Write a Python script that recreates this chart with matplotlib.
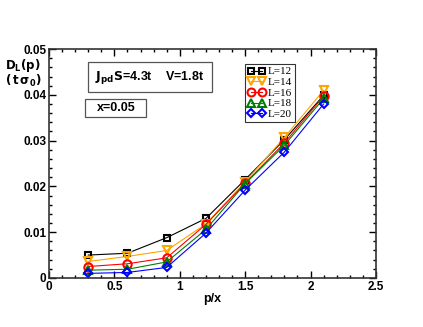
import matplotlib
matplotlib.use("Agg")
import matplotlib.pyplot as plt
from matplotlib.ticker import MultipleLocator
from matplotlib.patches import Rectangle

px = [0.3, 0.6, 0.9, 1.2, 1.5, 1.8, 2.1]
L12 = [0.0050, 0.0054, 0.0088, 0.0130, 0.0215, 0.0302, 0.0399]
L14 = [0.0036, 0.0047, 0.0060, 0.0118, 0.0210, 0.0307, 0.0410]
L16 = [0.0025, 0.0031, 0.0044, 0.0117, 0.0207, 0.0295, 0.0397]
L18 = [0.0017, 0.0019, 0.0035, 0.0106, 0.0206, 0.0290, 0.0392]
L20 = [0.0010, 0.0012, 0.0023, 0.0098, 0.0192, 0.0275, 0.0380]
labels = ["L=12", "L=14", "L=16", "L=18", "L=20"]
xticks = [0, 0.5, 1, 1.5, 2, 2.5]
xticklabels = ["0", "0.5", "1", "1.5", "2", "2.5"]
yticks = [0, 0.01, 0.02, 0.03, 0.04, 0.05]
yticklabels = ["0", "0.01", "0.02", "0.03", "0.04", "0.05"]

series = [L12, L14, L16, L18, L20]
colors = ["black", "orange", "red", "green", "blue"]
markers = ["s", "v", "o", "^", "D"]
msizes = [5, 6, 6, 6, 4.5]

plt.rcParams['font.family'] = ['Liberation Sans', 'DejaVu Sans']
W, H = 423, 327
fig = plt.figure(figsize=(W / 100, H / 100), dpi=100)
ax = fig.add_axes([0.1158, 0.150, 0.773, 0.700])

for y, c, m, ms, lab in zip(series, colors, markers, msizes, labels):
    ax.plot(px, y, color=c, lw=0.8, marker=m, ms=ms, mfc='none', mec=c,
            mew=1.5, label=lab)

ax.set_xlim(0, 2.5)
ax.set_ylim(0, 0.05)
ax.set_xticks(xticks)
ax.set_xticklabels(xticklabels, fontweight='bold')
ax.set_yticks(yticks)
ax.set_yticklabels(yticklabels, fontweight='bold')
ax.xaxis.set_minor_locator(MultipleLocator(0.1))
ax.yaxis.set_minor_locator(MultipleLocator(0.002))
ax.tick_params(which='both', direction='in', top=True, right=True, width=1.0)
ax.tick_params(which='major', length=5, labelsize=8.5, pad=2)
ax.tick_params(which='minor', length=2.5)
for s in ax.spines.values():
    s.set_linewidth(1.2)
    s.set_color('#333333')

ax.set_xlabel("p/x", fontsize=9, fontweight='bold', labelpad=0)

def fx(p):
    return p / W

def fy(p):
    return 1 - p / H

fig.text(fx(23), fy(65), r"$\mathbf{D_L(p)}$", fontsize=8.5, ha='center', va='center')
fig.text(fx(23), fy(81), r"$\mathbf{(\,t\,\sigma_0)}$", fontsize=8.5, ha='center', va='center')

# boxes
fig.patches.append(Rectangle((fx(88), fy(92)), fx(212) - fx(88), fy(62) - fy(92),
                             transform=fig.transFigure, fill=False, ec='#555555', lw=0.9))
fig.patches.append(Rectangle((fx(85), fy(117)), fx(146) - fx(85), fy(99) - fy(117),
                             transform=fig.transFigure, fill=False, ec='#555555', lw=0.9))
fig.text(fx(149), fy(77), r"$\mathbf{J_{pd}S}$=4.3t    V=1.8t", fontsize=9,
         fontweight='bold', ha='center', va='center')
fig.text(fx(116), fy(108), "x=0.05", fontsize=9, fontweight='bold',
         ha='center', va='center')

leg = ax.legend(loc='upper left', bbox_to_anchor=(0.60, 0.935),
                prop={'family': 'Liberation Serif', 'size': 8},
                frameon=True, fancybox=False, edgecolor='black',
                handlelength=1.6, handletextpad=0.2, labelspacing=0.08,
                borderpad=0.25, borderaxespad=0, markerscale=0.95,
                numpoints=2)
leg.get_frame().set_linewidth(0.8)

fig.savefig("out.png", dpi=100)
